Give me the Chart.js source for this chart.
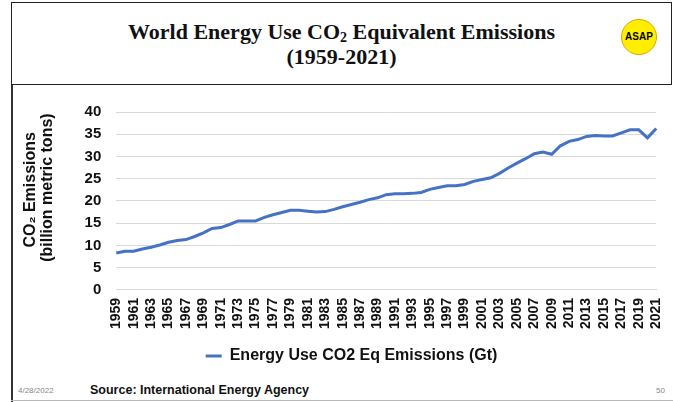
<!DOCTYPE html>
<html>
<head>
<meta charset="utf-8">
<script src="https://cdn.jsdelivr.net/npm/chart.js@4"></script>
<style>
  html, body { margin: 0; padding: 0; background: #fff; }
  #slide { position: relative; width: 673px; height: 402px; overflow: hidden; font-family: "Liberation Sans", Arial, sans-serif; }
  #titleBox { position: absolute; left: 11px; top: 2px; width: 661px; height: 83px; border: 1.5px solid #222; box-sizing: border-box; z-index: 2; }
  #leftRule { position: absolute; left: 11px; top: 84px; width: 1.5px; height: 318px; background: #333; }
  #bottomRule { position: absolute; left: 11px; top: 400px; width: 662px; height: 1px; background: #bbb; }
  #title { position: absolute; left: 11px; width: 661px; top: 19px; text-align: center; font-family: "Liberation Serif", "Times New Roman", serif; font-weight: bold; font-size: 22px; line-height: 25px; color: #111; }
  #title sub { font-size: 14px; vertical-align: -3px; line-height: 0; }
  #logo { position: absolute; left: 621px; top: 19px; width: 36px; height: 36px; border-radius: 50%; background: #ffee00; border: 1px solid #d8a800; box-sizing: border-box; text-align: center; line-height: 34px; font-weight: bold; font-size: 10px; color: #000; }
  #chartWrap { position: absolute; left: 12px; top: 88px; width: 669px; height: 286px; }
  .foot { position: absolute; top: 383px; font-size: 12.5px; }
  #date { left: 18px; font-size: 8px; color: #888; top: 386px; }
  #source { left: 90px; font-weight: bold; color: #111; }
  #page { left: 656px; font-size: 8px; color: #888; top: 386px; }
</style>
</head>
<body>
<div id="slide">
  <div id="titleBox"></div>
  <div id="leftRule"></div>
  <div id="bottomRule"></div>
  <div id="title">World Energy Use CO<sub>2</sub> Equivalent Emissions<br>(1959-2021)</div>
  <div id="logo">ASAP</div>
  <div id="chartWrap"><canvas id="emissionsChart"></canvas></div>
  <div class="foot" id="date">4/28/2022</div>
  <div class="foot" id="source">Source: International Energy Agency</div>
  <div class="foot" id="page">50</div>
</div>
<script>
const years = [];
for (let y = 1959; y <= 2021; y++) years.push(String(y));

const emissions = [
  8.3, 8.7, 8.7, 9.2, 9.6, 10.1, 10.7, 11.1, 11.3, 12.0,
  12.8, 13.8, 14.0, 14.7, 15.5, 15.5, 15.5, 16.3, 16.9, 17.4,
  17.9, 17.9, 17.7, 17.5, 17.6, 18.1, 18.7, 19.2, 19.7, 20.3,
  20.7, 21.4, 21.6, 21.6, 21.7, 21.9, 22.6, 23.0, 23.4, 23.4,
  23.7, 24.4, 24.8, 25.2, 26.2, 27.4, 28.5, 29.5, 30.6, 31.0,
  30.5, 32.4, 33.4, 33.8, 34.5, 34.7, 34.6, 34.6, 35.3, 36.0,
  36.0, 34.2, 36.3
];

const seriesLabel = "Energy Use CO2 Eq Emissions (Gt)";
// leading spaces nudge the rotated title a little above the axis centre, as in the slide
const yTitle = ["     CO\u2082 Emissions", "      (billion metric tons)"];

const ctx = document.getElementById("emissionsChart").getContext("2d");
new Chart(ctx, {
  type: "line",
  data: {
    labels: years,
    datasets: [
      {
        label: seriesLabel,
        data: emissions,
        borderColor: "#4472c4",
        backgroundColor: "#4472c4",
        borderWidth: 3,
        pointRadius: 0,
        tension: 0,
        pointStyle: "line",
      },
    ],
  },
  options: {
    responsive: true,
    maintainAspectRatio: false,
    animation: false,
    layout: { padding: { left: 10, right: 0, top: 15, bottom: 0 } },
    plugins: {
      tooltip: { enabled: false },
      legend: {
        position: "bottom",
        labels: {
          usePointStyle: true,
          pointStyleWidth: 16,
          color: "#111",
          font: { family: "Liberation Sans", size: 16, weight: "bold" },
          padding: 11,
        },
      },
    },
    scales: {
      x: {
        offset: false,
        grid: { display: false, drawTicks: false },
        border: { color: "#d9d9d9" },
        ticks: {
          autoSkip: false,
          maxRotation: 90,
          minRotation: 90,
          padding: 8,
          color: "#111",
          font: { family: "Liberation Sans", size: 14, weight: "bold" },
          callback: function (value, index) {
            return index % 2 === 0 ? this.getLabelForValue(value) : "";
          },
        },
      },
      y: {
        min: 0,
        max: 40,
        ticks: {
          stepSize: 5,
          color: "#111",
          padding: 15,
          font: { family: "Liberation Sans", size: 15, weight: "bold" },
        },
        grid: { color: "#d9d9d9", drawTicks: false },
        border: { display: false },
        title: {
          display: true,
          text: yTitle,
          color: "#111",
          padding: { top: 0, bottom: 14 },
          font: { family: "Liberation Sans", size: 16, weight: "bold", lineHeight: 1.05 },
        },
      },
    },
  },
});
</script>
</body>
</html>
